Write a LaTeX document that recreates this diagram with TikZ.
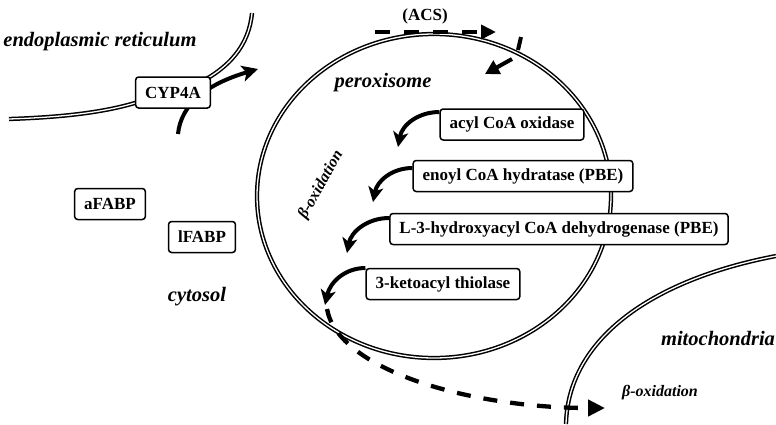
\documentclass[tikz,border=0pt]{standalone}
\usepackage{fontspec}
\setmainfont{Liberation Serif}
\usetikzlibrary{arrows.meta}
\begin{document}
\begin{tikzpicture}[x=1pt,y=-1pt,
  membrane/.style={double=white,draw=black,line width=1.5pt,double distance=1.3pt},
  enzyme/.style={draw,fill=white,line width=1.5pt,rounded corners=3pt,
    font=\fontsize{17}{20}\selectfont\bfseries,inner xsep=9.5pt,inner ysep=0pt,minimum height=31pt},
  region/.style={font=\fontsize{20.5}{24}\selectfont\bfseries\itshape},
  pathway/.style={font=\fontsize{16}{19}\selectfont\bfseries\itshape},
  flow/.style={line width=4pt,-{Stealth[length=15pt,width=15pt,inset=4pt]}},
  dashflow/.style={line width=4.3pt,dash pattern=on 15pt off 14pt}]
\useasboundingbox (0,0) rectangle (776,424);

% membranes
\coordinate (erA) at (9,119);
\coordinate (erB) at (150,98);
\coordinate (erC) at (195,85);
\coordinate (erD) at (252,13);
\draw[membrane] (erA) .. controls (70,117) and (115,111) .. (erB);
\draw[membrane] (erC) .. controls (230,68) and (249,45) .. (erD);
\draw[membrane] (434,196) ellipse [x radius=177, y radius=162];
\coordinate (mtA) at (776,256);
\coordinate (mtB) at (566,424);
\draw[membrane] (mtA) .. controls (650,280) and (568,340) .. (mtB);

% CYP4A route through the ER membrane (box drawn over it)
\coordinate (cypIn) at (178,134);
\coordinate (cypOut) at (258,69);
\draw[line width=4pt,-{Stealth[length=16pt,width=16pt,inset=4pt]}]
  (cypIn) .. controls (181,104) and (207,84) .. (cypOut);

% enzymes and binding proteins
\node[enzyme] (cyp) at (173,92.5) {CYP4A};
\node[enzyme] (acox) at (512,124.5) {acyl CoA oxidase};
\node[enzyme] (ech) at (523,176) {enoyl CoA hydratase (PBE)};
\node[enzyme] (hadh) at (559,229) {L-3-hydroxyacyl CoA dehydrogenase (PBE)};
\node[enzyme] (thio) at (443,284) {3-ketoacyl thiolase};
\node[enzyme] (afabp) at (110,204) {aFABP};
\node[enzyme] (lfabp) at (202,237) {lFABP};

% acyl-CoA synthetase import
\coordinate (acsA) at (375,32);
\coordinate (acsB) at (496,32);
\draw[dashflow,-{Triangle[length=15pt,width=14pt]}] (acsA) -- (acsB);
\node[font=\fontsize{17}{20}\selectfont\bfseries] (acs) at (425,16) {(ACS)};
\coordinate (impA) at (521,37);
\coordinate (impB) at (518,50);
\coordinate (impC) at (512,59);
\coordinate (impD) at (485,74);
\draw[line width=4pt] (impA) -- (impB);
\draw[line width=4pt,-{Triangle[length=14pt,width=15pt]}] (impC) -- (impD);

% beta-oxidation steps
\coordinate (s1) at (398,147);
\coordinate (s2) at (373,202);
\coordinate (s3) at (347,253);
\coordinate (s4) at (325,305);
\draw[flow] (acox.west |- 0,112) .. controls (418,112) and (402,125) .. (s1);
\draw[flow] (ech.west |- 0,168) .. controls (392,168) and (377,181) .. (s2);
\draw[flow] (hadh.west |- 0,218) .. controls (367,218) and (351,232) .. (s3);
\draw[flow] (thio.west |- 0,268) .. controls (345,268) and (330,282) .. (s4);

% export towards the mitochondria
\coordinate (mitoIn) at (605,408);
\draw[dashflow,dash pattern=on 14pt off 13pt,-{Triangle[length=17pt,width=16pt]}]
  (327,309) .. controls (338,370) and (470,408) .. (mitoIn);

% labels
\node[region] (er) at (100,42) {endoplasmic reticulum};
\node[region] (px) at (383,83) {peroxisome};
\node[region] (cy) at (197,297) {cytosol};
\node[region] (mt) at (718,338) {mitochondria};
\node[pathway,rotate=60.75] (box1) at (321,185) {β-oxidation};
\node[pathway] (box2) at (660,393) {β-oxidation};
\end{tikzpicture}
\end{document}
